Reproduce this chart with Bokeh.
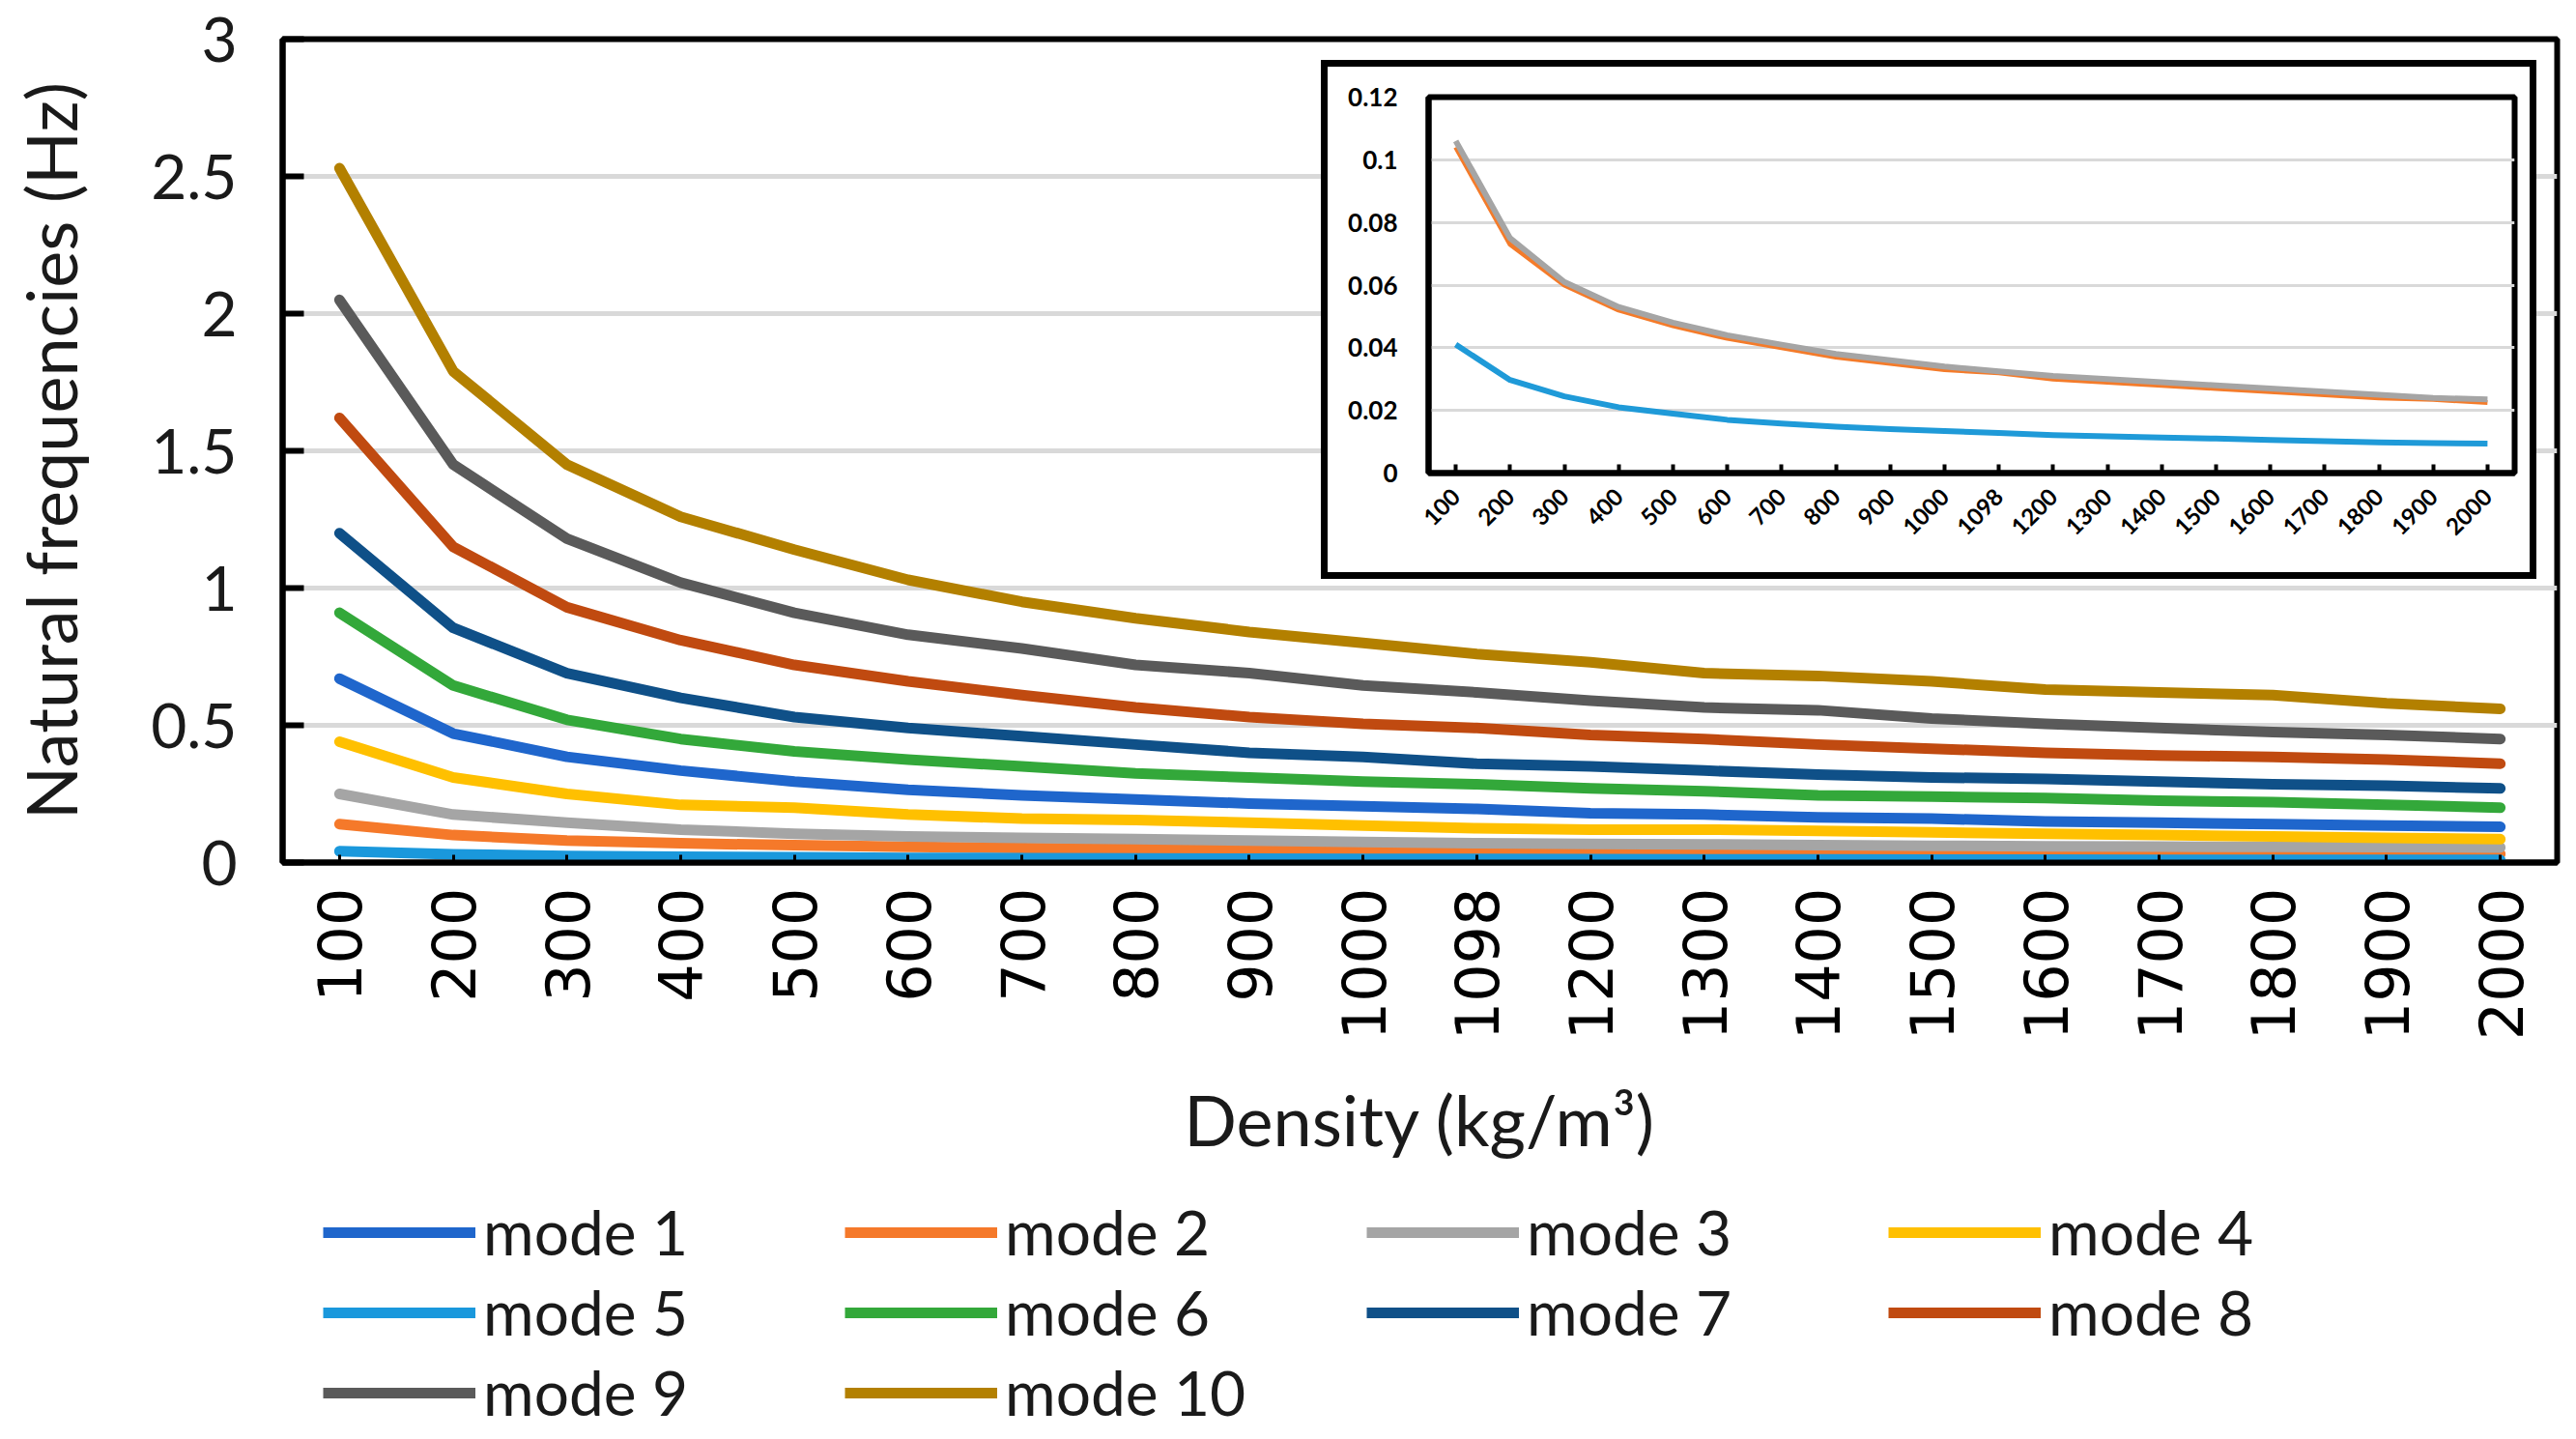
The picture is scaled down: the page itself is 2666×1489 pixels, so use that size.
import math
from bokeh.plotting import figure
from bokeh.models import FactorRange, Range1d, FixedTicker, Legend, LegendItem
from bokeh.layouts import column
from bokeh.embed import file_html
from bokeh.resources import INLINE

densities = ["100", "200", "300", "400", "500", "600", "700", "800", "900", "1000",
             "1098", "1200", "1300", "1400", "1500", "1600", "1700", "1800", "1900", "2000"]

mode1 = [0.67, 0.47, 0.385, 0.335, 0.295, 0.265, 0.245, 0.23, 0.215, 0.205,
         0.195, 0.18, 0.175, 0.165, 0.16, 0.15, 0.145, 0.14, 0.135, 0.13]
mode2 = [0.14, 0.10, 0.08, 0.07, 0.063, 0.057, 0.053, 0.05, 0.047, 0.044,
         0.042, 0.04, 0.039, 0.037, 0.036, 0.035, 0.034, 0.033, 0.032, 0.031]
mode3 = [0.25, 0.175, 0.145, 0.12, 0.105, 0.095, 0.09, 0.085, 0.08, 0.075,
         0.07, 0.068, 0.066, 0.063, 0.061, 0.059, 0.058, 0.057, 0.056, 0.055]
mode4 = [0.44, 0.31, 0.25, 0.21, 0.20, 0.175, 0.16, 0.155, 0.145, 0.135,
         0.125, 0.12, 0.12, 0.115, 0.11, 0.105, 0.10, 0.095, 0.09, 0.085]
mode5 = [0.041, 0.03, 0.024, 0.021, 0.019, 0.017, 0.016, 0.015, 0.014, 0.0135,
         0.013, 0.012, 0.0118, 0.0112, 0.011, 0.0105, 0.010, 0.0097, 0.0095, 0.0093]
mode6 = [0.91, 0.645, 0.52, 0.45, 0.405, 0.375, 0.35, 0.325, 0.31, 0.295,
         0.285, 0.27, 0.26, 0.245, 0.24, 0.235, 0.225, 0.22, 0.21, 0.20]
mode7 = [1.20, 0.855, 0.69, 0.60, 0.53, 0.49, 0.46, 0.43, 0.40, 0.385,
         0.36, 0.35, 0.335, 0.32, 0.31, 0.305, 0.295, 0.285, 0.28, 0.27]
mode8 = [1.62, 1.15, 0.93, 0.81, 0.72, 0.66, 0.61, 0.565, 0.53, 0.505,
         0.49, 0.465, 0.45, 0.43, 0.415, 0.40, 0.39, 0.385, 0.375, 0.36]
mode9 = [2.05, 1.45, 1.18, 1.02, 0.91, 0.83, 0.78, 0.72, 0.69, 0.645,
         0.62, 0.59, 0.565, 0.555, 0.525, 0.505, 0.49, 0.475, 0.465, 0.45]
mode10 = [2.53, 1.79, 1.45, 1.26, 1.14, 1.03, 0.95, 0.89, 0.84, 0.80,
          0.76, 0.73, 0.69, 0.68, 0.66, 0.63, 0.62, 0.61, 0.58, 0.56]

mode_names = ["mode 1", "mode 2", "mode 3", "mode 4", "mode 5",
              "mode 6", "mode 7", "mode 8", "mode 9", "mode 10"]
mode_colors = ["#1f66cc", "#f5792a", "#a5a5a5", "#ffc000", "#1a98dc",
               "#33a83a", "#0f5088", "#c04a10", "#5a5a5a", "#b38000"]

inset_orange = [0.104, 0.073, 0.060, 0.052, 0.047, 0.043, 0.040, 0.037, 0.035, 0.033,
                0.032, 0.030, 0.029, 0.028, 0.027, 0.026, 0.025, 0.024, 0.0235, 0.0225]
inset_grey = [0.106, 0.075, 0.061, 0.053, 0.048, 0.044, 0.041, 0.038, 0.036, 0.034,
              0.0325, 0.031, 0.030, 0.029, 0.028, 0.027, 0.026, 0.025, 0.024, 0.0235]
inset_blue = [0.041, 0.0297, 0.0245, 0.021, 0.019, 0.017, 0.0158, 0.0148, 0.014, 0.0134,
              0.0128, 0.0121, 0.0117, 0.0113, 0.011, 0.0106, 0.0102, 0.0098, 0.0096, 0.0094]

y_ticks = [0, 0.5, 1, 1.5, 2, 2.5, 3]
y_tick_labels = ["0", "0.5", "1", "1.5", "2", "2.5", "3"]
inset_y_ticks = [0, 0.02, 0.04, 0.06, 0.08, 0.1, 0.12]
inset_y_tick_labels = ["0", "0.02", "0.04", "0.06", "0.08", "0.1", "0.12"]

series = [mode1, mode2, mode3, mode4, mode5, mode6, mode7, mode8, mode9, mode10]

W, H = 2650, 1473
FRAME_TOP = 40
FRAME_BOTTOM = 892

# ---------------- main chart ----------------
p = figure(width=W, height=H,
           x_range=FactorRange(*densities), y_range=Range1d(0, 3),
           output_backend="svg", toolbar_location=None,
           min_border_left=292, min_border_right=4, min_border_top=FRAME_TOP,
           min_border_bottom=H - FRAME_BOTTOM)
p.frame_align = False
p.background_fill_color = "white"
p.border_fill_color = "white"
p.outline_line_color = "black"
p.outline_line_width = 6

p.xgrid.visible = False
p.ygrid.grid_line_color = "#d9d9d9"
p.ygrid.grid_line_width = 5

p.yaxis.ticker = FixedTicker(ticks=y_ticks)
p.yaxis.major_label_overrides = {t: l for t, l in zip(y_ticks, y_tick_labels)}
p.yaxis.major_label_text_font = "Lato"
p.yaxis.major_label_text_font_size = "64px"
p.yaxis.major_label_text_color = "#1a1a1a"
p.yaxis.major_label_standoff = 47
p.yaxis.major_tick_in = 22
p.yaxis.major_tick_out = 0
p.yaxis.major_tick_line_width = 6
p.yaxis.minor_tick_line_color = None
p.yaxis.axis_line_width = 6
p.yaxis.axis_label = "Natural frequencies (Hz)"
p.yaxis.axis_label_text_font = "Lato"
p.yaxis.axis_label_text_font_size = "72px"
p.yaxis.axis_label_text_font_style = "normal"
p.yaxis.axis_label_text_color = "#1a1a1a"
p.yaxis.axis_label_standoff = 58

p.xaxis.major_label_orientation = math.pi / 2
p.xaxis.major_label_text_font = "DejaVu Sans"
p.xaxis.major_label_text_font_size = "62px"
p.xaxis.major_label_text_color = "black"
p.xaxis.major_label_standoff = 26
p.xaxis.major_tick_in = 8
p.xaxis.major_tick_out = 0
p.xaxis.major_tick_line_width = 3
p.xaxis.axis_line_width = 6
p.xaxis.axis_label = "Density (kg/m³)"
p.xaxis.axis_label_text_font = "Lato"
p.xaxis.axis_label_text_font_size = "72px"
p.xaxis.axis_label_text_font_style = "normal"
p.xaxis.axis_label_text_color = "#1a1a1a"
p.xaxis.axis_label_standoff = 36

for col, vals in zip(mode_colors, series):
    p.line(densities, vals, line_color=col, line_width=11, line_join="round", line_cap="round")

# ---------------- legend (own small canvas below the chart) ----------------
LEG_W, LEG_H = 2310, 244
leg = figure(width=LEG_W, height=LEG_H,
             x_range=FactorRange(*densities), y_range=Range1d(10, 11),
             output_backend="svg", toolbar_location=None,
             min_border=0, min_border_left=0, min_border_right=0,
             min_border_top=0, min_border_bottom=0,
             styles={"position": "absolute", "left": "334px", "top": "1236px"})
leg.frame_align = False
leg.axis.visible = False
leg.grid.visible = False
leg.outline_line_color = None
leg.background_fill_alpha = 0
leg.border_fill_alpha = 0
items = []
for name, col, vals in zip(mode_names, mode_colors, series):
    r = leg.line(densities, vals, line_color=col, line_width=11)
    items.append(LegendItem(label=name, renderers=[r]))
legend = Legend(items=items, ncols=4, orientation="horizontal",
                location="top_left",
                label_text_font="Lato", label_text_font_size="64px", label_text_color="#1a1a1a",
                glyph_width=158, glyph_height=60, label_height=60, label_width=368,
                label_standoff=8, spacing=6,
                padding=0, margin=0, border_line_alpha=0, background_fill_alpha=0)
leg.add_layout(legend, "center")

# ---------------- inset ----------------
inset = figure(width=1258, height=537,
               x_range=FactorRange(*densities), y_range=Range1d(0, 0.12),
               output_backend="svg", toolbar_location=None,
               min_border_left=104, min_border_right=30, min_border_top=31, min_border_bottom=117,
               styles={"position": "absolute", "left": "1367px", "top": "62px",
                       "border": "7px solid black", "background": "white"})
inset.frame_align = False
inset.outline_line_color = "black"
inset.outline_line_width = 6
inset.xgrid.visible = False
inset.ygrid.grid_line_color = "#d9d9d9"
inset.ygrid.grid_line_width = 3
inset.yaxis.ticker = FixedTicker(ticks=inset_y_ticks)
inset.yaxis.major_label_overrides = {t: l for t, l in zip(inset_y_ticks, inset_y_tick_labels)}
inset.yaxis.major_label_text_font = "Lato"
inset.yaxis.major_label_text_font_style = "bold"
inset.yaxis.major_label_text_font_size = "26px"
inset.yaxis.major_label_text_color = "black"
inset.yaxis.major_label_standoff = 26
inset.yaxis.major_tick_line_color = None
inset.yaxis.minor_tick_line_color = None
inset.yaxis.axis_line_width = 6
inset.xaxis.major_label_orientation = math.pi / 4
inset.xaxis.major_label_text_font = "Lato"
inset.xaxis.major_label_text_font_style = "bold"
inset.xaxis.major_label_text_font_size = "24px"
inset.xaxis.major_label_text_color = "black"
inset.xaxis.major_label_standoff = 20
inset.xaxis.major_tick_in = 9
inset.xaxis.major_tick_out = 0
inset.xaxis.major_tick_line_width = 4
inset.xaxis.axis_line_width = 6

inset.line(densities, inset_blue, line_color="#1f9ad8", line_width=6, line_join="round")
inset.line(densities, inset_orange, line_color="#f47b2a", line_width=5, line_join="round")
inset.line(densities, inset_grey, line_color="#a5a5a5", line_width=6, line_join="round")

layout = column(p, inset, leg)
open("out.html", "w").write(file_html(layout, INLINE))
